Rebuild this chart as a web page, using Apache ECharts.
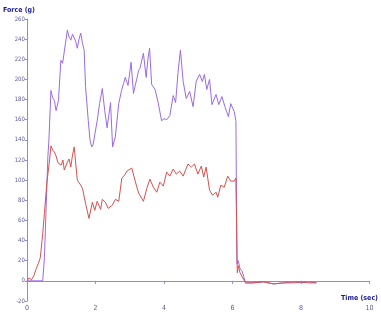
<!DOCTYPE html>
<html><head><meta charset="utf-8">
<script src="https://cdn.jsdelivr.net/npm/echarts@6/dist/echarts.min.js"></script>
<style>html,body{margin:0;padding:0;background:#fff}#c{width:381px;height:312px}</style>
</head><body><div id="c"></div>
<script>
var yTicks = [-20,0,20,40,60,80,100,120,140,160,180,200,220,240,260];
var xTicks = [0,2,4,6,8,10];

var purpleTime = [0,0.46,0.51,0.56,0.61,0.64,0.70,0.75,0.80,0.85,0.92,0.99,1.04,1.09,1.18,1.23,1.28,1.33,1.38,1.42,1.47,1.52,1.57,1.62,1.67,1.71,1.79,1.84,1.89,1.93,1.96,2.05,2.12,2.2,2.27,2.34,2.44,2.5,2.58,2.68,2.76,2.82,2.87,2.95,3.04,3.11,3.16,3.21,3.26,3.3,3.35,3.4,3.48,3.53,3.58,3.64,3.74,3.83,3.93,4.0,4.08,4.17,4.27,4.34,4.41,4.48,4.56,4.65,4.75,4.85,4.94,5.04,5.12,5.18,5.25,5.33,5.4,5.52,5.6,5.69,5.79,5.88,5.95,6.05,6.1,6.13,6.17,6.22,6.28,6.33,6.38,6.6,6.9,7.2,7.5,7.8,8.0,8.2,8.45];
var purpleForce = [0,0,23,73,123,139,189,182,179,169,179,219,216,217,249,242,239,245,246,238,231,240,246,236,229,193,159,140,133,135,136,159,176,191,169,152,177,133,143,176,189,196,202,194,217,186,194,201,209,211,212,226,202,220,231,195,190,177,159,161,160,164,184,177,207,229,198,181,188,173,198,205,198,205,190,200,175,185,175,183,172,163,176,168,159,17,20,12,10,4,-2,-2,-1,-3,-2,-1,-2,-1,-2];

var redTime = [0,0.03,0.06,0.13,0.2,0.27,0.33,0.39,0.46,0.51,0.58,0.66,0.70,0.75,0.8,0.85,0.9,0.94,1.0,1.05,1.09,1.18,1.23,1.28,1.33,1.38,1.47,1.55,1.62,1.71,1.81,1.91,1.98,2.05,2.15,2.2,2.29,2.37,2.49,2.58,2.68,2.77,2.85,2.92,3.06,3.16,3.26,3.4,3.5,3.59,3.69,3.79,3.88,3.98,4.08,4.17,4.27,4.36,4.46,4.56,4.63,4.7,4.8,4.89,4.99,5.09,5.16,5.23,5.33,5.42,5.52,5.57,5.66,5.76,5.86,5.95,6.05,6.1,6.14,6.17,6.22,6.3,6.38,6.6,6.9,7.2,7.5,7.8,8.0,8.2,8.45];
var redForce = [0,0,3,1,5,12,17,23,47,67,97,120,134,130,128,124,118,116,115,120,110,118,121,113,125,133,100,96,92,77,62,78,70,79,71,81,78,72,75,81,79,102,105,109,112,99,87,79,92,101,93,88,98,94,108,104,111,106,109,104,110,116,113,116,106,114,103,113,90,85,88,83,95,93,104,99,99,102,8,15,8,3,-2,-2,-1,-3,-2,-2,-1,-2,-2];

function pairs(ts, vs){ return ts.map(function(t,i){ return [t, vs[i]]; }); }

var axisColor = '#8c8cd0';
var labelColor = '#5a5aa0';
var chart = echarts.init(document.getElementById('c'), null, {renderer:'canvas'});
chart.setOption({
  animation:false,
  backgroundColor:'#ffffff',
  grid:{left:25, right:11, top:19, bottom:11, containLabel:false},
  xAxis:{
    type:'value', min:xTicks[0], max:xTicks[xTicks.length-1], interval:2,
    name:'Time (sec)', nameLocation:'end', nameGap:-10,
    nameTextStyle:{color:'#1a1a9a', fontSize:7, fontWeight:'bold', fontFamily:'DejaVu Sans Condensed', align:'center', verticalAlign:'top', padding:[14,0,0,0]},
    axisLine:{onZero:true, lineStyle:{color:axisColor, width:1}},
    axisTick:{show:true, length:3, lineStyle:{color:axisColor}},
    axisLabel:{color:labelColor, fontSize:7, fontFamily:'DejaVu Sans Condensed', margin:4},
    splitLine:{show:false}
  },
  yAxis:{
    type:'value', min:yTicks[0], max:yTicks[yTicks.length-1], interval:20,
    name:'Force (g)', nameLocation:'end', nameGap:5,
    nameTextStyle:{color:'#1a1a9a', fontSize:7, fontWeight:'bold', fontFamily:'DejaVu Sans Condensed', align:'center', padding:[0,16,0,0]},
    axisLine:{show:true, lineStyle:{color:axisColor, width:1}},
    axisTick:{show:true, length:2, lineStyle:{color:axisColor}},
    axisLabel:{color:labelColor, fontSize:6, fontFamily:'DejaVu Sans Condensed', margin:2},
    splitLine:{show:false}
  },
  series:[
    {type:'line', data:pairs(purpleTime, purpleForce), showSymbol:false, smooth:false,
     lineStyle:{color:'#9a6ae6', width:1}, itemStyle:{color:'#9a6ae6'}},
    {type:'line', data:pairs(redTime, redForce), showSymbol:false, smooth:false,
     lineStyle:{color:'#d8504c', width:1}, itemStyle:{color:'#d8504c'}}
  ]
});
</script></body></html>
